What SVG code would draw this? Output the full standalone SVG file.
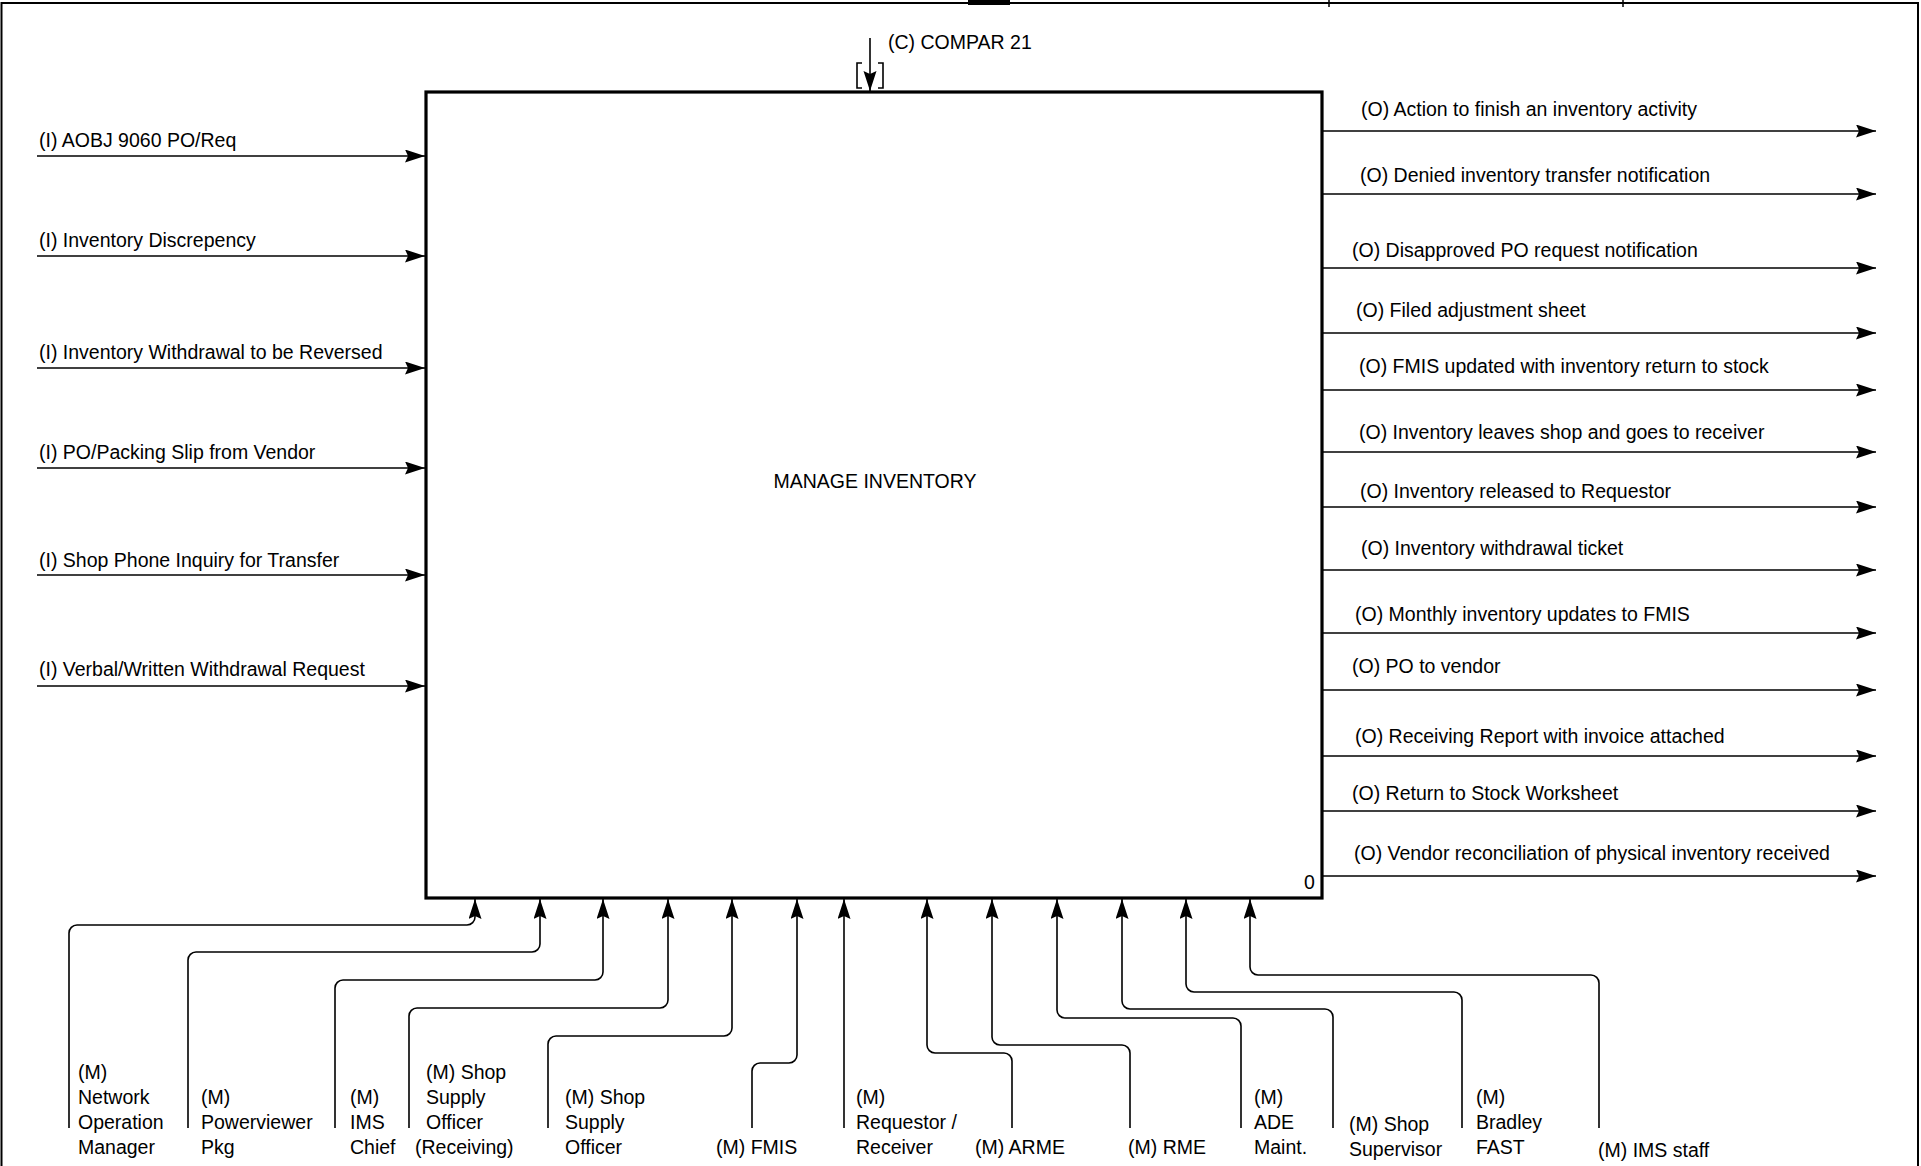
<svg xmlns="http://www.w3.org/2000/svg" width="1921" height="1166" viewBox="0 0 1921 1166">
<style>
text{font-family:"Liberation Sans",Arial,sans-serif;font-size:19.5px;fill:#000}
.ln{fill:none;stroke:#000;stroke-width:1.6}
.frame{fill:none;stroke:#000;stroke-width:2}
</style>
<defs>
<marker id="ah" markerUnits="userSpaceOnUse" markerWidth="22" markerHeight="14" refX="20" refY="6.5" orient="auto">
<path d="M0,0 L20,6.5 L0,13 L3,6.5 z" fill="#000"/>
</marker>
</defs>
<rect width="1921" height="1166" fill="#fff"/>
<g id="frame">
<path class="frame" d="M1.5,1166 V3 H1918 V1166"/>
<path d="M968,0 H1010 V5 H968 z" fill="#000"/>
<path d="M1329,0 V7 M1623,0 V7" stroke="#000" stroke-width="1.5"/>
</g>
<g id="node-A0">
<rect x="426" y="92" width="896" height="806" fill="#fff" stroke="#000" stroke-width="3.2"/>
<text x="875" y="488" text-anchor="middle">MANAGE INVENTORY</text>
<text x="1304" y="889">0</text>
</g>
<g id="connectors">
<g id="control">
<path class="ln" d="M870,38 V91" marker-end="url(#ah)"/>
<path class="ln" d="M862,63 H857 V88 H862 M878,63 H883 V88 H878"/>
<text x="888" y="49">(C) COMPAR 21</text>
</g>
<g id="inputs">
<path class="ln" d="M37,156 H425" marker-end="url(#ah)"/>
<path class="ln" d="M37,256 H425" marker-end="url(#ah)"/>
<path class="ln" d="M37,368 H425" marker-end="url(#ah)"/>
<path class="ln" d="M37,468 H425" marker-end="url(#ah)"/>
<path class="ln" d="M37,575 H425" marker-end="url(#ah)"/>
<path class="ln" d="M37,686 H425" marker-end="url(#ah)"/>
<text x="39" y="147">(I) AOBJ 9060 PO/Req</text>
<text x="39" y="247">(I) Inventory Discrepency</text>
<text x="39" y="359">(I) Inventory Withdrawal to be Reversed</text>
<text x="39" y="459">(I) PO/Packing Slip from Vendor</text>
<text x="39" y="567">(I) Shop Phone Inquiry for Transfer</text>
<text x="39" y="676">(I) Verbal/Written Withdrawal Request</text>
</g>
<g id="outputs">
<path class="ln" d="M1323,131 H1876" marker-end="url(#ah)"/>
<path class="ln" d="M1323,194 H1876" marker-end="url(#ah)"/>
<path class="ln" d="M1323,268 H1876" marker-end="url(#ah)"/>
<path class="ln" d="M1323,333 H1876" marker-end="url(#ah)"/>
<path class="ln" d="M1323,390 H1876" marker-end="url(#ah)"/>
<path class="ln" d="M1323,452 H1876" marker-end="url(#ah)"/>
<path class="ln" d="M1323,507 H1876" marker-end="url(#ah)"/>
<path class="ln" d="M1323,570 H1876" marker-end="url(#ah)"/>
<path class="ln" d="M1323,633 H1876" marker-end="url(#ah)"/>
<path class="ln" d="M1323,690 H1876" marker-end="url(#ah)"/>
<path class="ln" d="M1323,756 H1876" marker-end="url(#ah)"/>
<path class="ln" d="M1323,811 H1876" marker-end="url(#ah)"/>
<path class="ln" d="M1323,876 H1876" marker-end="url(#ah)"/>
<text x="1361" y="116">(O) Action to finish an inventory activity</text>
<text x="1360" y="182">(O) Denied inventory transfer notification</text>
<text x="1352" y="257">(O) Disapproved PO request notification</text>
<text x="1356" y="317">(O) Filed adjustment sheet</text>
<text x="1359" y="373">(O) FMIS updated with inventory return to stock</text>
<text x="1359" y="439">(O) Inventory leaves shop and goes to receiver</text>
<text x="1360" y="498">(O) Inventory released to Requestor</text>
<text x="1361" y="555">(O) Inventory withdrawal ticket</text>
<text x="1355" y="621">(O) Monthly inventory updates to FMIS</text>
<text x="1352" y="673">(O) PO to vendor</text>
<text x="1355" y="743">(O) Receiving Report with invoice attached</text>
<text x="1352" y="800">(O) Return to Stock Worksheet</text>
<text x="1354" y="860">(O) Vendor reconciliation of physical inventory received</text>
</g>
<g id="mechanisms">
<path class="ln" d="M69,1128 V933 A8,8 0 0 1 77,925 H467 A8,8 0 0 0 475,917 V899" marker-end="url(#ah)"/>
<path class="ln" d="M188,1128 V960 A8,8 0 0 1 196,952 H532 A8,8 0 0 0 540,944 V899" marker-end="url(#ah)"/>
<path class="ln" d="M335,1128 V988 A8,8 0 0 1 343,980 H595 A8,8 0 0 0 603,972 V899" marker-end="url(#ah)"/>
<path class="ln" d="M409,1128 V1016 A8,8 0 0 1 417,1008 H660 A8,8 0 0 0 668,1000 V899" marker-end="url(#ah)"/>
<path class="ln" d="M548,1128 V1044 A8,8 0 0 1 556,1036 H724 A8,8 0 0 0 732,1028 V899" marker-end="url(#ah)"/>
<path class="ln" d="M752,1128 V1071 A8,8 0 0 1 760,1063 H789 A8,8 0 0 0 797,1055 V899" marker-end="url(#ah)"/>
<path class="ln" d="M844,1128 V899" marker-end="url(#ah)"/>
<path class="ln" d="M1012,1128 V1061 A8,8 0 0 0 1004,1053 H935 A8,8 0 0 1 927,1045 V899" marker-end="url(#ah)"/>
<path class="ln" d="M1130,1128 V1053 A8,8 0 0 0 1122,1045 H1000 A8,8 0 0 1 992,1037 V899" marker-end="url(#ah)"/>
<path class="ln" d="M1241,1128 V1026 A8,8 0 0 0 1233,1018 H1065 A8,8 0 0 1 1057,1010 V899" marker-end="url(#ah)"/>
<path class="ln" d="M1333,1128 V1017 A8,8 0 0 0 1325,1009 H1130 A8,8 0 0 1 1122,1001 V899" marker-end="url(#ah)"/>
<path class="ln" d="M1462,1128 V1000 A8,8 0 0 0 1454,992 H1194 A8,8 0 0 1 1186,984 V899" marker-end="url(#ah)"/>
<path class="ln" d="M1599,1128 V983 A8,8 0 0 0 1591,975 H1258 A8,8 0 0 1 1250,967 V899" marker-end="url(#ah)"/>
</g>
</g>
<g id="mechanism-labels">
<g id="m-network"><text x="78" y="1079">(M)</text><text x="78" y="1104">Network</text><text x="78" y="1129">Operation</text><text x="78" y="1154">Manager</text></g>
<g id="m-powerviewer"><text x="201" y="1104">(M)</text><text x="201" y="1129">Powerviewer</text><text x="201" y="1154">Pkg</text></g>
<g id="m-imschief"><text x="350" y="1104">(M)</text><text x="350" y="1129">IMS</text><text x="350" y="1154">Chief</text></g>
<g id="m-sso-receiving"><text x="426" y="1079">(M) Shop</text><text x="426" y="1104">Supply</text><text x="426" y="1129">Officer</text><text x="415" y="1154">(Receiving)</text></g>
<g id="m-sso"><text x="565" y="1104">(M) Shop</text><text x="565" y="1129">Supply</text><text x="565" y="1154">Officer</text></g>
<g id="m-fmis"><text x="716" y="1154">(M) FMIS</text></g>
<g id="m-requestor"><text x="856" y="1104">(M)</text><text x="856" y="1129">Requestor /</text><text x="856" y="1154">Receiver</text></g>
<g id="m-arme"><text x="975" y="1154">(M) ARME</text></g>
<g id="m-rme"><text x="1128" y="1154">(M) RME</text></g>
<g id="m-ade"><text x="1254" y="1104">(M)</text><text x="1254" y="1129">ADE</text><text x="1254" y="1154">Maint.</text></g>
<g id="m-shopsup"><text x="1349" y="1131">(M) Shop</text><text x="1349" y="1156">Supervisor</text></g>
<g id="m-bradley"><text x="1476" y="1104">(M)</text><text x="1476" y="1129">Bradley</text><text x="1476" y="1154">FAST</text></g>
<g id="m-imsstaff"><text x="1598" y="1157">(M) IMS staff</text></g>
</g>
</svg>
